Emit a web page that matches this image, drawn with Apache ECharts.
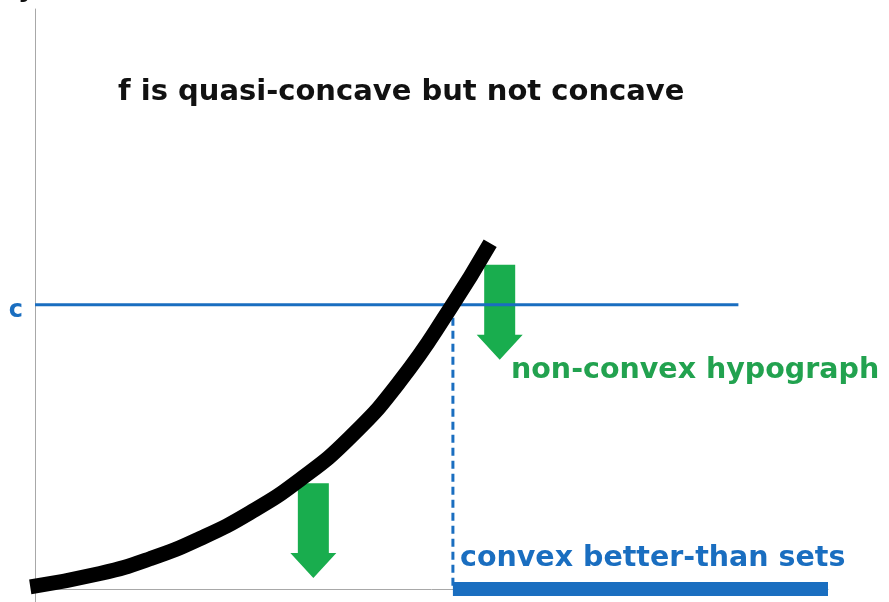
<!DOCTYPE html>
<html>
<head>
<meta charset="utf-8">
<script src="https://cdn.jsdelivr.net/npm/echarts@6/dist/echarts.min.js"></script>
<style>
  html, body { margin: 0; padding: 0; background: #fff; }
  #main { width: 889px; height: 602px; }
</style>
</head>
<body>
<div id="main"></div>
<script>
// f(x) curve
var curveX = [-0.6, 8.2, 14.5, 20.8, 27.1, 33.4, 39.7, 46.0, 52.3, 57.4]
var curveY = [0.35, 2.7, 5.3, 8.85, 13.4, 19.2, 26.6, 36.5, 49.2, 60.8]
// level c and where it cuts the curve
var cLevel = 50
var cLineEnd = 88.7
var xCut = 52.7
var setEnd = 100
// green arrows: x, top, tip
var arrowX = [58.6, 35.1]
var arrowTop = [57.0, 18.6]
var arrowTip = [40.3, 1.9]

var blue = '#1a6ec0'
var green = '#19ad4e'

var curveData = curveX.map(function (x, i) { return [x, curveY[i]] })
var arrowData = arrowX.map(function (x, i) { return [x, arrowTop[i], arrowTip[i]] })

var myChart = echarts.init(document.getElementById('main'))
myChart.setOption({
  animation: false,
  backgroundColor: '#fff',
  grid: {
    left: 35,
    right: 61,
    top: 9,
    bottom: 0
  },
  xAxis: {
    type: 'value',
    min: 0,
    max: 100,
    axisLine: { onZero: true, lineStyle: { color: '#a8a8a8', width: 1 } },
    axisTick: { show: false },
    axisLabel: { show: false },
    splitLine: { show: false }
  },
  yAxis: {
    type: 'value',
    min: -2.3,
    max: 102,
    axisLine: { show: true, onZero: true, lineStyle: { color: '#a8a8a8', width: 1 } },
    axisTick: { show: false },
    axisLabel: { show: false },
    splitLine: { show: false }
  },
  graphic: [
    {
      type: 'text',
      left: 18,
      top: -24,
      style: {
        text: 'y(x) = eˣ,  x ∈ ℝ₊',
        font: 'bold 26px "DejaVu Sans"',
        fill: '#111'
      }
    },
    {
      type: 'text',
      x: 118,
      y: 92,
      style: {
        text: 'f is quasi-concave but not concave',
        font: 'bold 29px "DejaVu Sans"',
        fill: '#111',
        verticalAlign: 'middle'
      }
    },
    {
      type: 'text',
      x: 511,
      y: 371,
      style: {
        text: 'non-convex hypograph',
        font: 'bold 28.5px "DejaVu Sans"',
        fill: '#22a24f',
        verticalAlign: 'middle'
      }
    },
    {
      type: 'text',
      x: 460,
      y: 559,
      style: {
        text: 'convex better-than sets',
        font: 'bold 28.5px "DejaVu Sans"',
        fill: blue,
        verticalAlign: 'middle'
      }
    }
  ],
  series: [
    {
      name: 'c',
      type: 'line',
      data: [[0, cLevel], [cLineEnd, cLevel]],
      symbol: 'none',
      lineStyle: { color: blue, width: 3 },
      markPoint: {
        symbol: 'circle',
        symbolSize: 0,
        data: [{ coord: [0, cLevel] }],
        label: {
          show: true,
          formatter: 'c',
          position: 'left',
          distance: 12,
          offset: [0, 6],
          color: blue,
          fontFamily: 'DejaVu Sans',
          fontWeight: 'bold',
          fontSize: 24
        }
      }
    },
    {
      name: 'cut',
      type: 'line',
      data: [[xCut, cLevel], [xCut, 0]],
      symbol: 'none',
      lineStyle: { color: blue, width: 3, type: [8, 5] }
    },
    {
      name: 'better-than',
      type: 'line',
      data: [[xCut, 0], [setEnd, 0]],
      symbol: 'none',
      lineStyle: { color: blue, width: 14, cap: 'butt' }
    },
    {
      name: 'f',
      type: 'line',
      data: curveData,
      smooth: 0.5,
      symbol: 'none',
      clip: false,
      lineStyle: { color: '#000', width: 15, cap: 'butt', join: 'round' }
    },
    {
      name: 'arrows',
      type: 'custom',
      clip: false,
      data: arrowData,
      renderItem: function (params, api) {
        var top = api.coord([api.value(0), api.value(1)])
        var tip = api.coord([api.value(0), api.value(2)])
        var sw = 15.5
        var hw = 23
        var neck = tip[1] - 25
        return {
          type: 'polygon',
          shape: {
            points: [
              [top[0] - sw, top[1]], [top[0] + sw, top[1]],
              [top[0] + sw, neck], [top[0] + hw, neck],
              [tip[0], tip[1]],
              [top[0] - hw, neck], [top[0] - sw, neck]
            ]
          },
          style: { fill: green }
        }
      }
    }
  ]
})
</script>
</body>
</html>
